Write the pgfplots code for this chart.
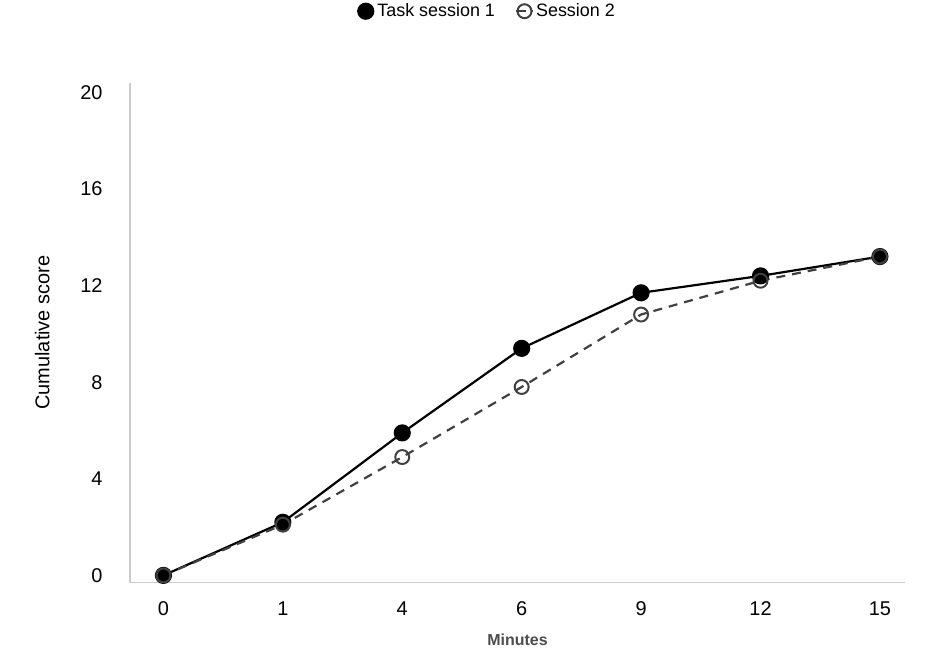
\documentclass[border=0pt]{standalone}
\usepackage{fontspec}
\setmainfont{Liberation Sans}
\usepackage{pgfplots}
\pgfplotsset{compat=1.18}

\pgfplotstableread{
x  s1    s2
0  0.0   0.0
1  2.2   2.1
2  5.9   4.9
3  9.4   7.8
4  11.7  10.8
5  12.4  12.2
6  13.2  13.2
}\sessions

\begin{document}
\begin{tikzpicture}
\begin{axis}[
    name=main,
    scale only axis,
    width=775bp, height=500bp,
    xmin=-0.28, xmax=6.21,
    ymin=-0.3, ymax=20.4,
    axis lines=left,
    axis line style={draw=black!20, line width=1.2pt, -},
    xtick={0,1,2,3,4,5,6},
    xticklabels={0,1,4,6,9,12,15},
    ytick={0,4,8,12,16,20},
    major tick length=0pt,
    tick label style={font=\fontsize{20}{24}\selectfont},
    yticklabel style={xshift=-24bp},
    xticklabel style={yshift=-14bp, text height=15bp, text depth=0bp, anchor=north},
    /pgf/number format/assume math mode=true,
    xlabel={\textbf{Minutes}},
    xlabel style={font=\fontsize{16}{19}\selectfont, text=black!70, yshift=-12bp},
    ylabel={Cumulative score},
    ylabel style={font=\fontsize{20}{24}\selectfont, yshift=24bp},
    legend style={at={(0.46,1.12)}, anchor=south, draw=none,
        font=\fontsize{18}{22}\selectfont, legend columns=2,
        /tikz/every even column/.append style={column sep=18pt}},
    legend cell align=left,
]
\addplot[black, line width=2.2pt, mark=*, mark size=7.5pt,
    mark options={fill=black, solid}] table[x=x, y=s1] {\sessions};
\addlegendentry{Task session 1}
\addplot[black!75, line width=2.2pt, dash pattern=on 9pt off 7pt, mark=o, mark size=7pt,
    mark options={fill=white, solid, line width=2pt}] table[x=x, y=s2] {\sessions};
\addlegendentry{Session 2}
\end{axis}
\path (main.south west) ++(-130bp,-89bp) rectangle ++(930bp,669bp);
\end{tikzpicture}
\end{document}
